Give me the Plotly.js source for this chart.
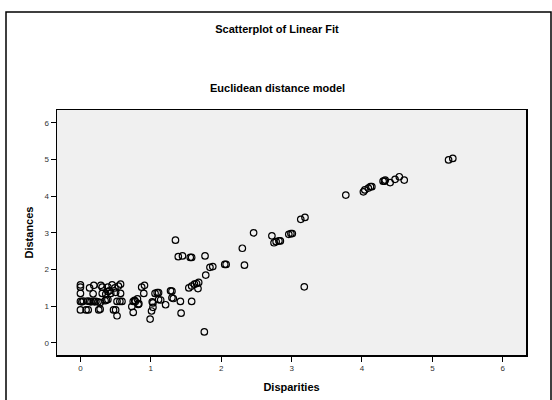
<!DOCTYPE html>
<html>
<head>
<meta charset="utf-8">
<script src="https://cdn.plot.ly/plotly-3.0.1.min.js"></script>
<style>html,body{margin:0;padding:0;background:#fff;}#chart{width:552px;height:400px;}</style>
</head>
<body>
<div id="chart"></div>
<script>
const disparities = [
  0,0,0.13,0.19,0.29,0.31,0.39,0.45,0.49,0.54,0.57,
  0,0.18,0.31,0.36,0.39,0.43,0.41,0.50,0.57,
  0,0.02,0.04,0.10,0.13,0.15,0.18,0.20,0.22,0.25,0.28,0.35,0.37,0.39,0.52,0.56,0.59,
  0,0.08,0.11,0.26,0.28,0.47,0.50,0.52,
  0.73,0.75,0.75,0.77,0.78,0.81,0.82,0.83,0.87,0.91,0.90,
  0.99,1.01,1.03,1.02,1.03,1.06,1.09,1.11,1.11,1.14,1.21,1.28,1.30,1.30,1.32,1.42,1.43,
  1.35,1.39,1.45,1.56,1.58,1.77,
  1.54,1.58,1.62,1.65,1.68,1.67,1.58,1.76,1.78,1.84,1.88,2.05,2.07,2.30,2.33,
  2.46,2.72,2.75,2.78,2.82,2.84,2.96,2.99,3.01,3.13,3.19,3.18,3.77,
  4.02,4.04,4.09,4.12,4.14,4.30,4.32,4.33,4.40,4.47,4.53,4.60,5.23,5.29
];
const distances = [
  1.58,1.52,1.50,1.57,1.57,1.52,1.52,1.58,1.50,1.55,1.60,
  1.35,1.34,1.35,1.33,1.40,1.35,1.42,1.38,1.35,
  1.13,1.12,1.14,1.14,1.13,1.12,1.14,1.12,1.13,1.12,1.10,1.15,1.17,1.18,1.13,1.13,1.13,
  0.90,0.90,0.90,0.90,0.92,0.90,0.90,0.74,
  0.99,0.83,1.13,1.16,1.13,1.20,1.05,1.07,1.52,1.57,1.35,
  0.65,0.87,0.97,1.12,1.09,1.35,1.37,1.37,1.18,1.17,1.04,1.42,1.41,1.23,1.21,1.13,0.81,
  2.80,2.35,2.37,2.33,2.33,2.37,
  1.50,1.55,1.60,1.62,1.65,1.48,1.13,0.30,1.85,2.06,2.08,2.14,2.14,2.58,2.12,
  3.00,2.92,2.73,2.76,2.78,2.78,2.96,2.98,2.98,3.37,3.42,1.53,4.03,
  4.12,4.17,4.22,4.26,4.26,4.41,4.41,4.44,4.37,4.46,4.53,4.44,4.99,5.03
];
const tickValues = [0,1,2,3,4,5,6];
const tickLabels = ["0","1","2","3","4","5","6"];

const FONT = "Liberation Sans, Arial, sans-serif";

const trace = {
  type: "scatter",
  mode: "markers",
  x: disparities,
  y: distances,
  marker: {symbol: "circle-open", size: 6.5, color: "#000", line: {width: 1.2, color: "#000"}},
  hoverinfo: "x+y"
};

const axisCommon = {
  tickvals: tickValues,
  ticktext: tickLabels,
  ticks: "outside",
  ticklen: 5,
  tickwidth: 1,
  tickcolor: "#000",
  showgrid: false,
  zeroline: false,
  showline: true,
  linecolor: "#000",
  linewidth: 1.5,
  mirror: true,
  tickfont: {family: FONT, size: 8, color: "#333"}
};

const layout = {
  width: 552,
  height: 400,
  margin: {l: 57, r: 26, t: 110, b: 45},
  paper_bgcolor: "#fff",
  plot_bgcolor: "#f0f0f0",
  showlegend: false,
  font: {family: FONT, color: "#000"},
  title: {
    text: "<b>Scatterplot of Linear Fit</b>",
    font: {family: FONT, size: 11, color: "#000"},
    x: 277 / 552, xref: "container", xanchor: "center",
    y: 1 - 29/400, yref: "container", yanchor: "middle"
  },
  xaxis: Object.assign({}, axisCommon, {
    range: [-0.333, 6.33],
    title: {text: "<b>Disparities</b>", font: {family: FONT, size: 11, color: "#000"}, standoff: 11}
  }),
  yaxis: Object.assign({}, axisCommon, {
    range: [-0.33, 6.35],
    title: {text: "<b>Distances</b>", font: {family: FONT, size: 11, color: "#000"}, standoff: 8}
  }),
  annotations: [{
    text: "<b>Euclidean distance model</b>",
    xref: "paper", yref: "paper",
    x: (277 - 57) / 469, y: (355 - 88) / 245,
    xanchor: "center", yanchor: "middle",
    showarrow: false,
    font: {family: FONT, size: 11, color: "#000"}
  }],
  shapes: [{
    type: "rect", xref: "paper", yref: "paper",
    x0: (6 - 57) / 469, x1: (551 - 57) / 469,
    y0: (355 - 410) / 245, y1: (355 - 12) / 245,
    line: {color: "#000", width: 1.5},
    fillcolor: "rgba(0,0,0,0)",
    layer: "below"
  }]
};

Plotly.newPlot("chart", [trace], layout, {displayModeBar: false, staticPlot: true});
</script>
</body>
</html>
